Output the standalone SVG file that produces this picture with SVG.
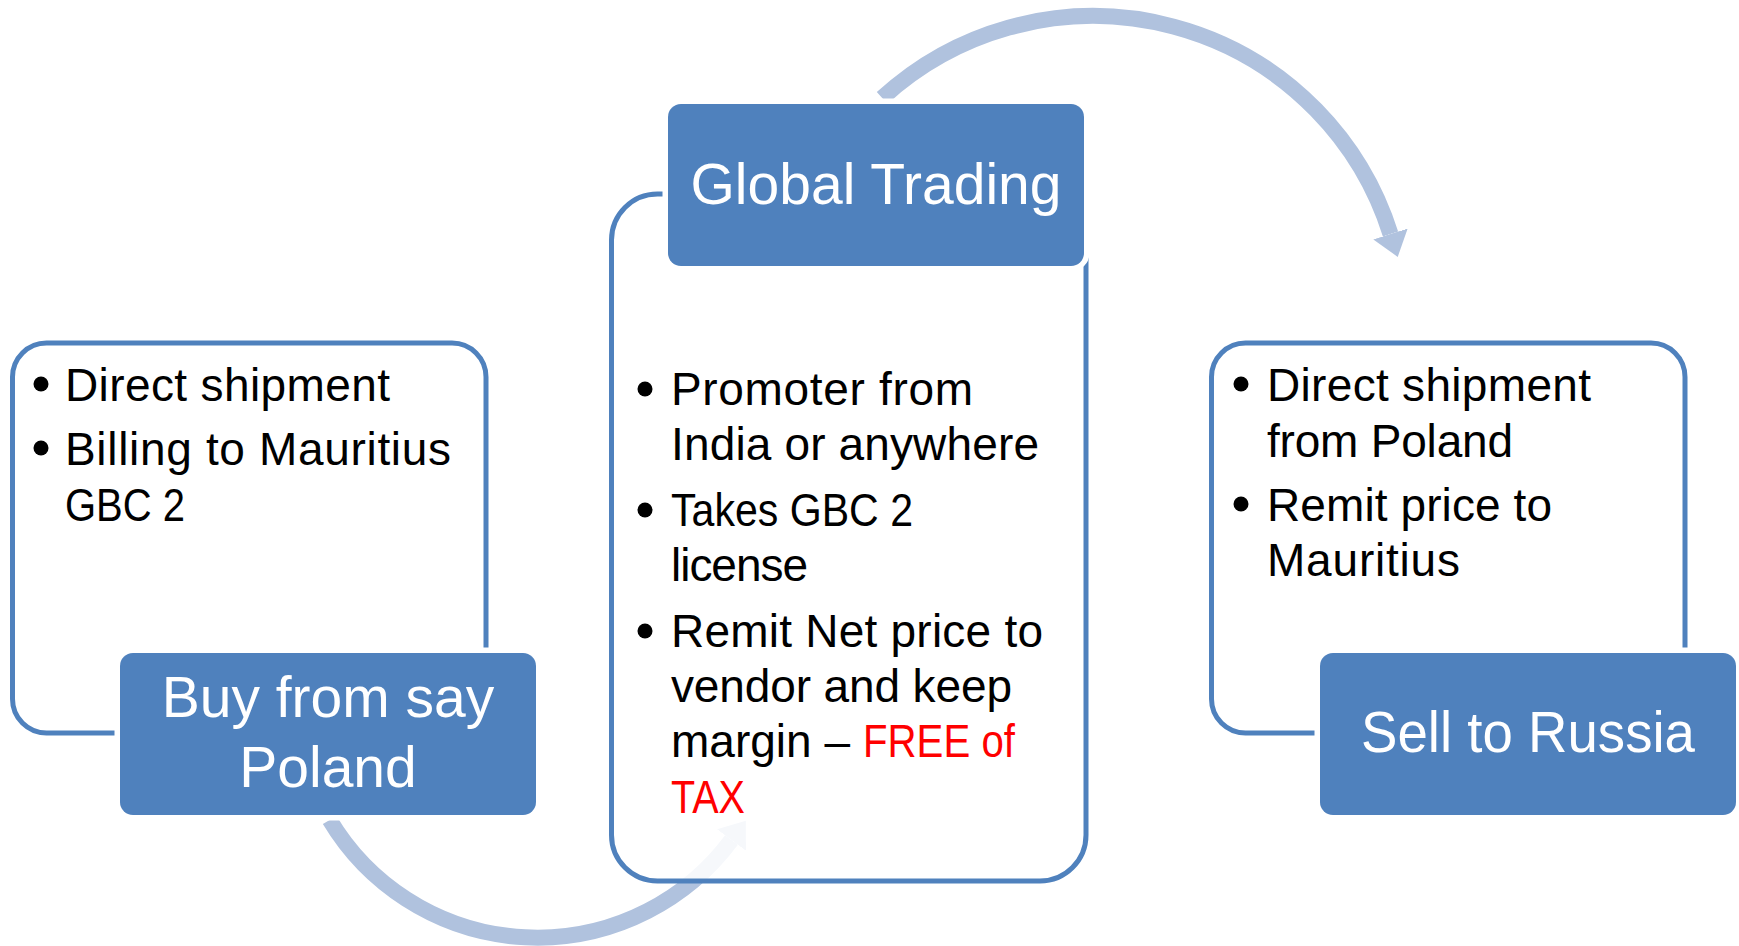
<svg xmlns="http://www.w3.org/2000/svg" width="1739" height="946" viewBox="0 0 1739 946">
  <defs>
    <style>
      .frame { fill: #ffffff; fill-opacity: 0.88; stroke: #4F81BD; stroke-width: 5; }
      .title-box { fill: #4F81BD; stroke: #ffffff; stroke-width: 11; paint-order: stroke; }
      .title { font-family: "Liberation Sans", Arial, sans-serif; font-size: 57px; fill: #ffffff; text-anchor: middle; }
      .item { font-family: "Liberation Sans", Arial, sans-serif; font-size: 46px; fill: #000000; }
      .bullet { fill: #000000; }
      .hot { fill: #FF0000; }
      .flow { fill: none; stroke: #B0C2DE; stroke-width: 16; marker-end: url(#head); }
    </style>
    <marker id="head" markerUnits="userSpaceOnUse" markerWidth="40" markerHeight="40" viewBox="0 0 40 40" refX="0" refY="20" orient="auto">
      <path d="M0,2 L24,20 L0,38 Z" fill="#B0C2DE"/>
    </marker>
  </defs>

  <rect x="0" y="0" width="1739" height="946" fill="#ffffff"/>

  <!-- curved flow arrows, drawn beneath the boxes -->
  <g id="connectors">
    <path class="flow" d="M 882.2 98 A 312 312 0 0 1 1390.5 234"/>
    <path class="flow" d="M 329.7 820 A 242 242 0 0 0 731.5 840"/>
  </g>

  <!-- step 1: buying -->
  <g id="buy">
    <rect class="frame" x="12.5" y="343" width="473.5" height="390" rx="34"/>
    <circle class="bullet" cx="41" cy="384" r="7.5"/>
    <text class="item" x="65" y="401" textLength="325">Direct shipment</text>
    <circle class="bullet" cx="41" cy="448" r="7.5"/>
    <text class="item" x="65" y="465" textLength="386">Billing to Mauritius</text>
    <text class="item" x="65" y="521" textLength="120" lengthAdjust="spacingAndGlyphs">GBC 2</text>
    <rect class="title-box" x="120" y="653" width="416" height="162" rx="13"/>
    <text class="title" x="328" y="717">Buy from say</text>
    <text class="title" x="328" y="787">Poland</text>
  </g>

  <!-- step 2: trading company -->
  <g id="global-trading">
    <rect class="frame" x="611.5" y="194" width="474.5" height="687" rx="46"/>
    <rect class="title-box" x="668" y="104" width="416" height="162" rx="13"/>
    <text class="title" x="876" y="204" textLength="371">Global Trading</text>
    <circle class="bullet" cx="645" cy="389" r="7.5"/>
    <text class="item" x="671" y="405" textLength="302">Promoter from</text>
    <text class="item" x="671" y="460" textLength="368">India or anywhere</text>
    <circle class="bullet" cx="645" cy="510" r="7.5"/>
    <text class="item" x="671" y="526" textLength="242" lengthAdjust="spacingAndGlyphs">Takes GBC 2</text>
    <text class="item" x="671" y="581" textLength="137">license</text>
    <circle class="bullet" cx="645" cy="631" r="7.5"/>
    <text class="item" x="671" y="647" textLength="372">Remit Net price to</text>
    <text class="item" x="671" y="702" textLength="341">vendor and keep</text>
    <text class="item" x="671" y="757">margin – <tspan class="hot" x="863" textLength="152" lengthAdjust="spacingAndGlyphs">FREE of</tspan></text>
    <text class="item hot" x="671" y="813" textLength="74" lengthAdjust="spacingAndGlyphs">TAX</text>
  </g>

  <!-- step 3: selling -->
  <g id="sell">
    <rect class="frame" x="1211.5" y="343" width="473.5" height="390" rx="34"/>
    <circle class="bullet" cx="1241" cy="384" r="7.5"/>
    <text class="item" x="1267" y="401" textLength="324">Direct shipment</text>
    <text class="item" x="1267" y="457" textLength="246">from Poland</text>
    <circle class="bullet" cx="1241" cy="504" r="7.5"/>
    <text class="item" x="1267" y="521" textLength="285">Remit price to</text>
    <text class="item" x="1267" y="576" textLength="193">Mauritius</text>
    <rect class="title-box" x="1320" y="653" width="416" height="162" rx="13"/>
    <text class="title" x="1528" y="752" textLength="334" lengthAdjust="spacingAndGlyphs">Sell to Russia</text>
  </g>
</svg>
